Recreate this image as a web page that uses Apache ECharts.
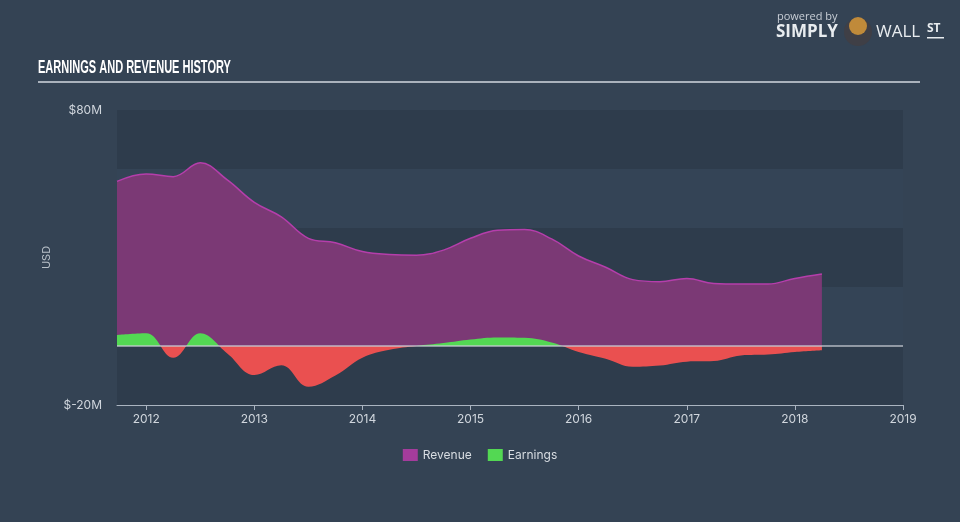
<!DOCTYPE html>
<html><head><meta charset="utf-8">
<script src="https://cdn.jsdelivr.net/npm/echarts@6.0.0/dist/echarts.min.js"></script>
<style>html,body{margin:0;padding:0;background:#344354;}#c{width:960px;height:522px;}</style>
</head><body><div id="c"></div>
<script>
// Quarter-end dates as decimal years
const quarters = [2011.73, 2012.0, 2012.25, 2012.5, 2012.75, 2013.0, 2013.25, 2013.5, 2013.75,
  2014.0, 2014.25, 2014.5, 2014.75, 2015.0, 2015.25, 2015.5, 2015.75, 2016.0, 2016.25,
  2016.5, 2016.75, 2017.0, 2017.25, 2017.5, 2017.75, 2018.0, 2018.25];
// USD millions
const revenue = [55.8, 58.3, 57.4, 62.1, 56.3, 48.7, 43.8, 36.5, 35, 32, 31, 30.8, 32.5, 36.5,
  39.2, 39.5, 36.3, 30.5, 26.7, 22.5, 21.8, 22.9, 21.2, 21, 21, 22.9, 24.4];
const earnings = [3.7, 4.3, -4, 4.3, -2.5, -9.8, -6.5, -13.8, -10, -4, -1.3, 0, 1, 2.2,
  2.9, 2.8, 1.2, -2, -4.3, -7, -6.6, -5.3, -5.1, -3.2, -2.9, -2, -1.4];
const yearTicks = [2012, 2013, 2014, 2015, 2016, 2017, 2018, 2019];
const yTickLabels = {'80': '$80M', '-20': '$-20M'};

const chart = echarts.init(document.getElementById('c'), null, {renderer: 'canvas'});
const revData = quarters.map((q, i) => [q, revenue[i]]);
const earnData = quarters.map((q, i) => [q, earnings[i]]);

chart.setOption({
  backgroundColor: '#344354',
  animation: false,
  grid: {left: 117, right: 57, top: 110, bottom: 117, containLabel: false},
  xAxis: {
    type: 'value', min: 2011.73, max: 2019,
    axisLine: {show: true, onZero: false, lineStyle: {color: '#aab4c0', width: 1}},
    axisTick: {show: true, customValues: yearTicks, length: 5, lineStyle: {color: '#aab4c0'}},
    axisLabel: {customValues: yearTicks, color: '#d0d6dd', fontSize: 12, margin: 8,
      fontFamily: 'Inter, sans-serif', formatter: v => String(v)},
    splitLine: {show: false}
  },
  yAxis: {
    type: 'value', min: -20, max: 80, interval: 20,
    name: 'USD', nameLocation: 'middle', nameRotate: 90, nameGap: 50,
    nameTextStyle: {color: '#b8c0c8', fontSize: 11, fontFamily: 'Inter, sans-serif'},
    axisLine: {show: false}, axisTick: {show: false},
    axisLabel: {color: '#d0d6dd', fontSize: 12, margin: 15, fontFamily: 'Inter, sans-serif',
      formatter: v => yTickLabels[String(v)] || ''},
    splitLine: {show: false},
    splitArea: {show: true, areaStyle: {color: ['#2e3c4c', '#344456']}}
  },
  visualMap: {
    show: false, type: 'piecewise', seriesIndex: 1, dimension: 1,
    pieces: [{gt: -1000, lte: 0, color: '#ea5050'}, {gt: 0, lte: 1000, color: '#53d853'}]
  },
  legend: {
    top: 444, left: 'center', itemGap: 16, itemWidth: 15, itemHeight: 12, icon: 'rect',
    textStyle: {color: '#d8dde2', fontSize: 12, fontFamily: 'Inter, sans-serif'},
    data: [{name: 'Revenue', itemStyle: {color: '#a43c9c'}},
           {name: 'Earnings', itemStyle: {color: '#53d853'}}]
  },
  series: [
    {
      name: 'Revenue', type: 'line', data: revData, smooth: 0.4, showSymbol: false,
      lineStyle: {color: '#b53eab', width: 1.5},
      itemStyle: {color: '#a43c9c'},
      areaStyle: {color: '#7b3975', opacity: 1},
      z: 2
    },
    {
      name: 'Earnings', type: 'line', data: earnData, smooth: 0.4, showSymbol: false,
      lineStyle: {width: 0},
      areaStyle: {opacity: 1},
      z: 3,
      markLine: {
        silent: true, symbol: 'none', label: {show: false},
        lineStyle: {color: '#c8ccd4', type: 'solid', width: 1.5, opacity: 0.85},
        data: [{yAxis: 0}]
      }
    }
  ],
  graphic: [
    {type: 'text', left: 38, top: 58, scaleX: 0.58, style: {text: 'EARNINGS AND REVENUE HISTORY',
      fill: '#ffffff', font: 'bold 19px "Liberation Sans", sans-serif'}},
    {type: 'rect', shape: {x: 38, y: 81, width: 882, height: 2}, style: {fill: '#aab2bc'}},
    {type: 'text', left: 777, top: 11, style: {text: 'powered by', fill: '#c8ced6',
      font: '11px "Open Sans", sans-serif'}},
    {type: 'text', left: 776, top: 24, style: {text: 'SIMPLY', fill: '#e8ecef',
      font: 'bold 17px "Open Sans", sans-serif'}},
    {type: 'circle', shape: {cx: 858, cy: 32, r: 14}, style: {fill: '#3f3f46'}},
    {type: 'circle', shape: {cx: 858, cy: 26, r: 9}, style: {fill: '#c08a3a'}},
    {type: 'text', left: 876, top: 24, style: {text: 'WALL', fill: '#e8ecef',
      font: '17px "Open Sans", sans-serif'}},
    {type: 'text', left: 927, top: 23, style: {text: 'ST', fill: '#e8ecef',
      font: 'bold 12px "Open Sans", sans-serif'}},
    {type: 'rect', shape: {x: 927, y: 37, width: 17, height: 1.5}, style: {fill: '#e8ecef'}}
  ]
});
</script>
</body></html>
